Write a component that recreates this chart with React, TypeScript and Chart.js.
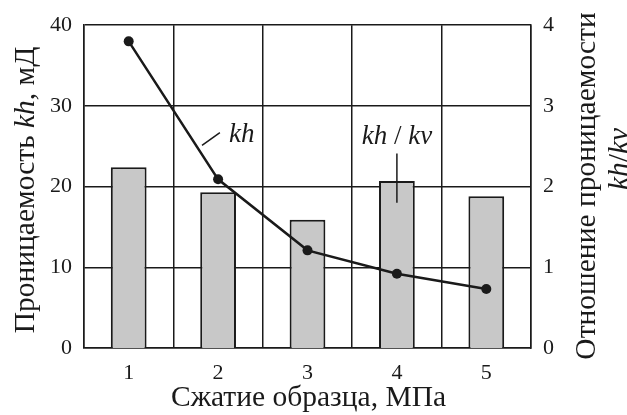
import React, { useEffect, useRef } from "react";
import { Chart, registerables } from "chart.js";

Chart.register(...registerables);

const categories = ["1", "2", "3", "4", "5"];
const khValues = [38.0, 20.9, 12.1, 9.2, 7.3];
const ratioValues = [2.24, 1.93, 1.59, 2.07, 1.88];
const leftMax = 40;
const rightMax = 4;

const FONT = '"Liberation Serif", "Times New Roman", serif';
const INK = "#1a1a1a";
const TITLE_SIZE = 29.5;
const TICK_SIZE = 22;
const NOTE_SIZE = 27;

type Seg = { t: string; i?: boolean };

function drawSegs(ctx: CanvasRenderingContext2D, segs: Seg[], size: number) {
  const widths = segs.map((s) => {
    ctx.font = `${s.i ? "italic " : ""}${size}px ${FONT}`;
    return ctx.measureText(s.t).width;
  });
  const total = widths.reduce((a, b) => a + b, 0);
  let x = -total / 2;
  segs.forEach((s, k) => {
    ctx.font = `${s.i ? "italic " : ""}${size}px ${FONT}`;
    ctx.fillText(s.t, x, 0);
    x += widths[k];
  });
}

const titlesPlugin = {
  id: "titles",
  afterDraw(chart: any) {
    const { ctx, chartArea } = chart;
    const cx = (chartArea.left + chartArea.right) / 2;
    ctx.save();
    ctx.fillStyle = INK;
    ctx.textBaseline = "middle";
    ctx.textAlign = "left";
    // left title
    ctx.save();
    ctx.translate(26, 190);
    ctx.rotate(-Math.PI / 2);
    drawSegs(ctx, [{ t: "Проницаемость " }, { t: "kh", i: true }, { t: ", мД" }], TITLE_SIZE);
    ctx.restore();
    // right title
    ctx.save();
    ctx.translate(587, 186);
    ctx.rotate(-Math.PI / 2);
    drawSegs(ctx, [{ t: "Отношение проницаемости" }], TITLE_SIZE);
    ctx.restore();
    ctx.save();
    ctx.translate(620, 159);
    ctx.rotate(-Math.PI / 2);
    drawSegs(ctx, [{ t: "kh", i: true }, { t: "/" }, { t: "kv", i: true }], TITLE_SIZE);
    ctx.restore();
    // bottom title
    ctx.save();
    ctx.translate(cx + 1, 398);
    drawSegs(ctx, [{ t: "Сжатие образца, МПа" }], TITLE_SIZE);
    ctx.restore();
    ctx.restore();
  },
};

const annotationPlugin = {
  id: "annots",
  afterDatasetsDraw(chart: any) {
    const { ctx } = chart;
    const x = chart.scales.x;
    const y = chart.scales.y;
    const y1 = chart.scales.y1;
    ctx.save();
    ctx.strokeStyle = INK;
    ctx.lineWidth = 1.5;
    ctx.beginPath();
    ctx.moveTo(x.getPixelForValue(0.82), y.getPixelForValue(25.1));
    ctx.lineTo(x.getPixelForValue(1.02), y.getPixelForValue(26.7));
    ctx.stroke();
    ctx.beginPath();
    ctx.moveTo(x.getPixelForValue(3), y1.getPixelForValue(2.41));
    ctx.lineTo(x.getPixelForValue(3), y1.getPixelForValue(1.8));
    ctx.stroke();
    ctx.fillStyle = INK;
    ctx.textBaseline = "middle";
    ctx.textAlign = "left";
    ctx.save();
    ctx.translate(x.getPixelForValue(1.12) + 13, y.getPixelForValue(26.4));
    drawSegs(ctx, [{ t: "kh", i: true }], NOTE_SIZE);
    ctx.restore();
    ctx.save();
    ctx.translate(x.getPixelForValue(3), y1.getPixelForValue(2.61));
    drawSegs(ctx, [{ t: "kh", i: true }, { t: " / " }, { t: "kv", i: true }], NOTE_SIZE);
    ctx.restore();
    ctx.restore();
  },
};

export default function App() {
  const ref = useRef<HTMLCanvasElement>(null);
  useEffect(() => {
    if (!ref.current) return;
    const chart = new Chart(ref.current, {
      type: "bar",
      data: {
        labels: categories,
        datasets: [
          {
            type: "line",
            data: khValues,
            yAxisID: "y",
            borderColor: INK,
            backgroundColor: INK,
            borderWidth: 2.5,
            pointRadius: 5,
            pointBackgroundColor: INK,
            pointBorderWidth: 0,
            tension: 0,
            order: 0,
          } as any,
          {
            type: "bar",
            data: ratioValues,
            yAxisID: "y1",
            backgroundColor: "#c8c8c8",
            borderColor: INK,
            borderWidth: 2,
            barPercentage: 0.4,
            categoryPercentage: 1,
            order: 1,
          } as any,
        ],
      },
      options: {
        responsive: false,
        animation: false,
        layout: { padding: { top: 25, left: 0, right: 0, bottom: 0 } },
        plugins: { legend: { display: false }, tooltip: { enabled: false } },
        scales: {
          x: {
            offset: true,
            grid: { offset: true, color: INK, lineWidth: 1.5, drawTicks: false },
            border: { color: INK, width: 1.5 },
            ticks: { color: INK, font: { family: FONT, size: TICK_SIZE }, padding: 12 },
            afterFit: (s: any) => {
              s.height = 67;
            },
          },
          y: {
            position: "left",
            min: 0,
            max: leftMax,
            grid: { color: INK, lineWidth: 1.5, drawTicks: false },
            border: { color: INK, width: 1.5 },
            ticks: { stepSize: 10, color: INK, font: { family: FONT, size: TICK_SIZE }, padding: 12 },
            afterFit: (s: any) => {
              s.width = 84;
            },
          },
          y1: {
            position: "right",
            min: 0,
            max: rightMax,
            grid: { display: false, drawTicks: false },
            border: { color: INK, width: 1.5 },
            ticks: { stepSize: 1, color: INK, font: { family: FONT, size: TICK_SIZE }, padding: 12 },
            afterFit: (s: any) => {
              s.width = 96;
            },
          },
        },
      },
      plugins: [annotationPlugin, titlesPlugin],
    } as any);
    return () => chart.destroy();
  }, []);
  return (
    <div style={{ position: "absolute", left: 0, top: 0, width: 627, height: 415, background: "#fff" }}>
      <canvas ref={ref} width={627} height={415} style={{ display: "block" }} />
    </div>
  );
}
